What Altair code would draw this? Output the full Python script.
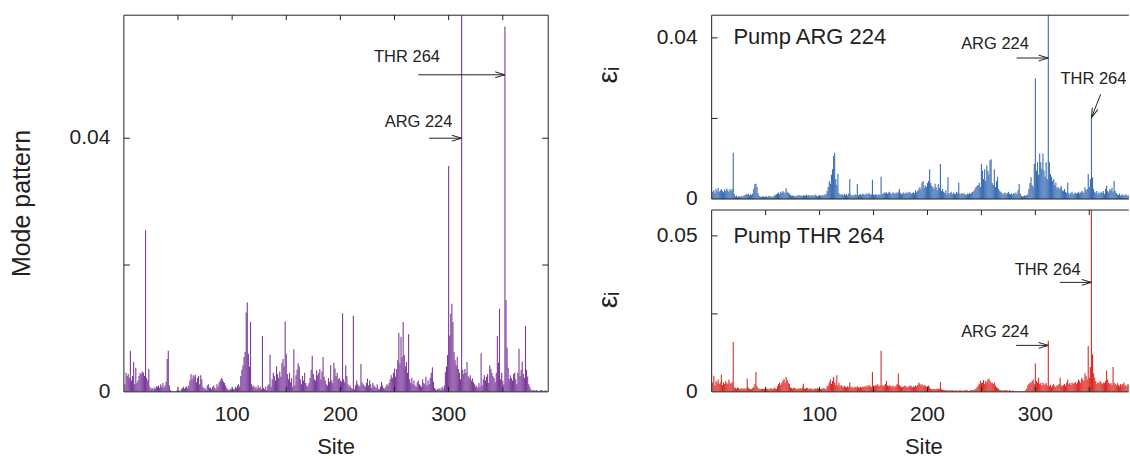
import altair as alt
import pandas as pd

# Residue index along the chain
SITES = list(range(1, 391))

# Per-site amplitudes, stored in units of 1e-4
MODE_PATTERN = [
    12, 30, 25, 28, 22, 65, 18, 25, 47, 12,
    38, 14, 18, 25, 30, 28, 32, 30, 25, 255,
    22, 18, 36, 8, 5, 6, 4, 7, 5, 9,
    8, 10, 6, 12, 8, 14, 7, 10, 16, 52,
    65, 10, 3, 1, 1, 1, 0, 1, 2, 1,
    2, 1, 4, 6, 8, 5, 7, 9, 6, 10,
    18, 28, 20, 26, 24, 27, 15, 22, 25, 12,
    26, 20, 8, 5, 6, 3, 10, 12, 7, 6,
    4, 8, 10, 6, 5, 12, 8, 15, 18, 22,
    20, 16, 14, 10, 6, 4, 3, 5, 4, 3,
    5, 4, 8, 6, 10, 12, 8, 25, 35, 42,
    55, 63, 125, 141, 60, 40, 110, 12, 8, 10,
    6, 8, 5, 10, 6, 8, 4, 88, 6, 4,
    8, 3, 10, 12, 59, 8, 20, 30, 25, 18,
    40, 28, 22, 32, 24, 45, 52, 40, 111, 60,
    28, 20, 30, 15, 22, 8, 67, 10, 26, 35,
    45, 40, 20, 12, 25, 18, 30, 14, 10, 8,
    14, 22, 35, 57, 28, 20, 18, 34, 26, 30,
    36, 20, 32, 55, 24, 18, 12, 10, 22, 16,
    42, 18, 14, 46, 37, 25, 30, 20, 22, 18,
    16, 124, 20, 15, 42, 25, 12, 8, 10, 6,
    5, 120, 4, 10, 18, 12, 10, 8, 44, 15,
    12, 10, 8, 14, 21, 10, 18, 12, 6, 14,
    10, 8, 6, 12, 5, 4, 8, 16, 10, 6,
    5, 8, 12, 10, 14, 20, 26, 22, 30, 37,
    24, 36, 50, 93, 45, 87, 55, 110, 58, 40,
    47, 30, 91, 20, 14, 22, 12, 18, 10, 8,
    15, 18, 12, 10, 8, 20, 14, 12, 24, 10,
    18, 12, 22, 30, 39, 16, 6, 4, 3, 5,
    4, 6, 3, 8, 5, 10, 31, 40, 58, 356,
    89, 123, 139, 110, 63, 50, 42, 55, 36, 30,
    20, 680, 35, 28, 36, 30, 47, 25, 22, 26,
    18, 21, 15, 12, 8, 10, 6, 14, 8, 61,
    10, 20, 26, 18, 24, 28, 14, 42, 36, 30,
    25, 22, 15, 30, 88, 46, 131, 20, 30, 18,
    12, 576, 145, 70, 38, 20, 26, 22, 18, 28,
    30, 20, 12, 30, 68, 25, 35, 48, 28, 22,
    104, 35, 24, 12, 8, 4, 2, 3, 2, 2,
    3, 2, 1, 2, 2, 3, 2, 1, 2, 2,
]

EPS_PUMP_ARG224 = [
    18, 22, 15, 25, 20, 28, 18, 22, 25, 20,
    17, 24, 20, 26, 22, 18, 25, 20, 25, 115,
    12, 6, 8, 5, 6, 7, 5, 8, 6, 9,
    10, 12, 11, 13, 9, 12, 10, 14, 25, 37,
    38, 30, 15, 8, 6, 5, 7, 6, 5, 7,
    6, 5, 8, 6, 7, 5, 6, 8, 10, 12,
    14, 16, 12, 18, 15, 20, 17, 14, 27, 18,
    15, 14, 10, 8, 9, 7, 8, 6, 9, 8,
    10, 8, 9, 7, 10, 8, 9, 11, 8, 10,
    9, 8, 10, 9, 8, 11, 9, 7, 8, 10,
    9, 8, 10, 9, 11, 12, 20, 30, 45, 38,
    60, 74, 107, 115, 50, 35, 62, 15, 10, 12,
    11, 9, 13, 10, 12, 9, 14, 50, 11, 8,
    10, 9, 12, 10, 37, 9, 11, 12, 10, 13,
    12, 10, 14, 11, 13, 15, 10, 12, 48, 11,
    10, 12, 11, 9, 12, 10, 55, 12, 14, 16,
    15, 17, 13, 16, 18, 14, 12, 17, 15, 13,
    16, 14, 18, 25, 15, 12, 14, 16, 13, 15,
    17, 14, 18, 16, 13, 15, 17, 14, 22, 18,
    20, 25, 30, 24, 41, 45, 28, 35, 30, 40,
    45, 74, 40, 33, 30, 25, 38, 30, 22, 37,
    28, 87, 20, 25, 18, 15, 22, 12, 54, 14,
    15, 18, 12, 16, 14, 12, 18, 15, 41, 14,
    12, 15, 13, 14, 12, 10, 14, 12, 15, 13,
    16, 18, 20, 25, 30, 33, 35, 40, 30, 87,
    70, 50, 74, 45, 83, 70, 60, 97, 99, 40,
    35, 74, 30, 45, 55, 25, 20, 18, 15, 12,
    14, 16, 12, 15, 18, 13, 12, 14, 11, 15,
    13, 16, 12, 22, 37, 14, 8, 6, 7, 9,
    8, 10, 12, 25, 40, 54, 35, 30, 87, 299,
    70, 91, 60, 113, 91, 75, 113, 70, 55, 91,
    50, 650, 91, 62, 55, 45, 50, 35, 41, 28,
    30, 25, 28, 33, 22, 20, 25, 18, 15, 41,
    14, 12, 15, 18, 12, 14, 16, 13, 15, 18,
    14, 16, 20, 18, 15, 29, 22, 25, 62, 30,
    50, 200, 54, 25, 18, 15, 20, 12, 16, 14,
    18, 15, 20, 12, 25, 33, 20, 16, 25, 22,
    28, 18, 45, 20, 15, 12, 10, 14, 8, 10,
    12, 8, 10, 12, 8, 10, 9, 8, 10, 9,
]

EPS_PUMP_THR264 = [
    30, 52, 20, 35, 28, 40, 25, 30, 55, 22,
    30, 25, 35, 28, 25, 40, 30, 25, 32, 160,
    15, 12, 10, 14, 12, 8, 10, 12, 9, 11,
    10, 12, 42, 14, 10, 8, 9, 12, 15, 25,
    64, 18, 12, 10, 8, 9, 11, 8, 10, 12,
    9, 11, 8, 10, 12, 9, 10, 13, 11, 9,
    18, 25, 30, 22, 28, 35, 42, 30, 48, 38,
    30, 25, 15, 12, 10, 14, 12, 10, 9, 11,
    10, 12, 9, 14, 26, 11, 10, 13, 12, 9,
    10, 12, 9, 8, 10, 11, 9, 12, 10, 8,
    9, 11, 10, 12, 10, 9, 18, 20, 30, 40,
    25, 35, 48, 30, 22, 53, 20, 28, 18, 22,
    18, 15, 20, 16, 14, 18, 15, 30, 16, 14,
    15, 13, 16, 14, 18, 15, 13, 16, 14, 17,
    15, 18, 16, 20, 17, 22, 18, 15, 64, 20,
    18, 22, 20, 25, 18, 20, 132, 22, 18, 20,
    25, 35, 20, 18, 22, 18, 16, 20, 15, 18,
    20, 25, 59, 22, 18, 15, 17, 16, 20, 18,
    15, 17, 16, 21, 18, 15, 17, 16, 20, 18,
    22, 30, 25, 20, 24, 18, 22, 20, 15, 18,
    20, 15, 10, 9, 8, 10, 9, 8, 11, 9,
    10, 32, 8, 7, 6, 5, 6, 4, 5, 4,
    5, 4, 6, 4, 3, 5, 4, 3, 5, 4,
    4, 5, 3, 4, 6, 4, 5, 3, 4, 5,
    4, 6, 5, 8, 10, 15, 20, 25, 35, 28,
    30, 38, 25, 35, 30, 40, 43, 35, 28, 30,
    25, 30, 20, 15, 12, 10, 6, 5, 4, 5,
    4, 6, 5, 4, 3, 5, 4, 3, 4, 3,
    2, 3, 2, 1, 2, 1, 2, 1, 2, 3,
    5, 10, 20, 25, 30, 28, 35, 40, 25, 91,
    35, 30, 45, 25, 28, 20, 30, 22, 25, 28,
    20, 164, 18, 22, 15, 20, 25, 18, 15, 20,
    22, 25, 45, 20, 18, 22, 25, 20, 30, 40,
    25, 28, 22, 30, 25, 28, 32, 25, 30, 40,
    35, 28, 45, 40, 35, 60, 50, 40, 147, 45,
    80, 650, 120, 60, 45, 35, 25, 30, 28, 35,
    30, 25, 30, 28, 35, 68, 40, 30, 25, 28,
    22, 80, 30, 25, 20, 28, 22, 18, 25, 20,
    25, 30, 22, 18, 20, 25, 22, 18, 20, 22,
]
UNIT = 1e-4

# Tick values and their printed labels
X_LABELS = [100, 200, 300]
X_MINOR = [50, 100, 150, 200, 250, 300, 350]
LEFT_Y_LABELS = [0, 0.04]
LEFT_Y_TEXT = ["0", "0.04"]
LEFT_Y_MINOR = [0.02, 0.04]
TOP_Y_LABELS = [0, 0.04]
TOP_Y_TEXT = ["0", "0.04"]
TOP_Y_MINOR = [0.02, 0.04]
BOT_Y_LABELS = [0, 0.05]
BOT_Y_TEXT = ["0", "0.05"]
BOT_Y_MINOR = [0.025, 0.05]

FONT = "Liberation Sans"
INK = "#222222"
PURPLE = "#7d3c9c"
BLUE = "#3b6db3"
RED = "#dc2c27"

# Open V arrowhead, tip at the origin, pointing along +x
ARROW_HEAD = "M-1,-0.3L0,0L-1,0.3"

ONE_ROW = alt.Data(values=[{}])


def impulses(values, color, xdom, ydom):
    df = pd.DataFrame({"site": SITES, "value": [v * UNIT for v in values]})
    return alt.Chart(df).mark_rule(color=color, strokeWidth=1.1, clip=True).encode(
        x=alt.X("site:Q", scale=alt.Scale(domain=xdom, nice=False, zero=False), axis=None),
        y=alt.Y("value:Q", scale=alt.Scale(domain=ydom, nice=False, zero=True), axis=None),
        y2=alt.datum(0),
    )


def frame(w, h, sides):
    segs = {
        "top": dict(x=alt.value(0), x2=alt.value(w), y=alt.value(0)),
        "bottom": dict(x=alt.value(0), x2=alt.value(w), y=alt.value(h)),
        "left": dict(x=alt.value(0), y=alt.value(0), y2=alt.value(h)),
        "right": dict(x=alt.value(w), y=alt.value(0), y2=alt.value(h)),
    }
    return [
        alt.Chart(ONE_ROW).mark_rule(color=INK, strokeWidth=1).encode(**segs[s])
        for s in sides
    ]


def y_ticks(values, w, both=False, length=6):
    df = pd.DataFrame({"t": values})
    base = alt.Chart(df).mark_rule(color=INK, strokeWidth=1)
    out = [base.encode(y=alt.Y("t:Q", axis=None), x=alt.value(0), x2=alt.value(length))]
    if both:
        out.append(base.encode(y=alt.Y("t:Q", axis=None), x=alt.value(w - length), x2=alt.value(w)))
    return out


def x_ticks(values, h, length=5):
    df = pd.DataFrame({"t": values})
    base = alt.Chart(df).mark_rule(color=INK, strokeWidth=1)
    return [
        base.encode(x=alt.X("t:Q", axis=None), y=alt.value(0), y2=alt.value(length)),
        base.encode(x=alt.X("t:Q", axis=None), y=alt.value(h - length), y2=alt.value(h)),
    ]


def y_labels(values, texts, dx=-13.5, size=21):
    df = pd.DataFrame({"t": values, "s": texts})
    return alt.Chart(df).mark_text(
        font=FONT, fontSize=size, align="right", baseline="middle", color=INK
    ).encode(y=alt.Y("t:Q", axis=None), x=alt.value(dx), text="s:N")


def x_labels(values, h, dy=23.6, size=21):
    df = pd.DataFrame({"t": values, "s": [str(v) for v in values]})
    return alt.Chart(df).mark_text(
        font=FONT, fontSize=size, align="center", baseline="middle", color=INK
    ).encode(x=alt.X("t:Q", axis=None), y=alt.value(h + dy), text="s:N")


def title(text, x, y, size=22, angle=0):
    return alt.Chart(ONE_ROW).mark_text(
        font=FONT, fontSize=size, align="center", baseline="middle", color=INK, angle=angle
    ).encode(x=alt.value(x), y=alt.value(y), text=alt.value(text))


def arrows(rows, size=380):
    df = pd.DataFrame(rows)
    line = alt.Chart(df).mark_rule(color=INK, strokeWidth=1).encode(
        x=alt.X("xa:Q", axis=None), x2="xb:Q",
        y=alt.Y("ya:Q", axis=None), y2="yb:Q",
    )
    head = alt.Chart(df).mark_point(
        shape=ARROW_HEAD, filled=False, size=size, color=INK, strokeWidth=1, opacity=1
    ).encode(
        x=alt.X("xb:Q", axis=None),
        y=alt.Y("yb:Q", axis=None),
        angle=alt.Angle("ang:Q", scale=None),
    )
    return [line, head]


def label(text, x, y, align, size=16.5):
    df = pd.DataFrame({"tx": [x], "ty": [y], "label": [text]})
    return alt.Chart(df).mark_text(
        font=FONT, fontSize=size, align=align, baseline="middle", color=INK
    ).encode(x=alt.X("tx:Q", axis=None), y=alt.Y("ty:Q", axis=None), text="label:N")


# ---- left panel: mode pattern ----
LW, LH = 424.7, 377
left_layers = [
    impulses(MODE_PATTERN, PURPLE, [0, 392], [0, 0.0594]),
    *frame(LW, LH, ["top", "bottom", "left", "right"]),
    *y_ticks(LEFT_Y_MINOR, LW, both=True),
    *x_ticks(X_MINOR, LH),
    y_labels(LEFT_Y_LABELS, LEFT_Y_TEXT),
    x_labels(X_LABELS, LH),
    title("Site", LW / 2, LH + 55),
    title("Mode pattern", -101.5, LH / 2, size=25, angle=270),
    *arrows([
        dict(xa=272, ya=0.05, xb=352, yb=0.05, ang=0),
        dict(xa=282, ya=0.04, xb=312, yb=0.04, ang=0),
    ]),
    label("THR 264", 292, 0.0528, "right"),
    label("ARG 224", 303.5, 0.0426, "right"),
    # invisible anchor fixing the page offset of the plot area
    alt.Chart(ONE_ROW).mark_rule(strokeOpacity=0, strokeWidth=1).encode(
        x=alt.value(-124), y=alt.value(-15), y2=alt.value(0)
    ),
]
left = alt.layer(*left_layers).properties(width=LW, height=LH)

# ---- right panels: epsilon_i for the two pumped residues ----
RW = 417.5
RXDOM = [0, 386.6]

TH = 184
top_layers = [
    impulses(EPS_PUMP_ARG224, BLUE, RXDOM, [0, 0.04563]),
    *frame(RW, TH, ["top", "bottom", "left"]),
    *y_ticks(TOP_Y_MINOR, RW),
    y_labels(TOP_Y_LABELS, TOP_Y_TEXT, dx=-14),
    title("εᵢ", -102.5, 60, size=28, angle=270),
    *arrows([
        dict(xa=282.6, ya=0.035, xb=312, yb=0.035, ang=0),
        dict(xa=360.5, ya=0.026, xb=352, yb=0.0202, ang=111.5),
    ]),
    label("Pump ARG 224", 20.2, 0.0402, "left", size=22),
    label("ARG 224", 294, 0.0386, "right"),
    label("THR 264", 323.3, 0.0297, "left"),
]
top = alt.layer(*top_layers).properties(width=RW, height=TH)

BH = 182
bottom_layers = [
    impulses(EPS_PUMP_THR264, RED, RXDOM, [0, 0.0583]),
    *frame(RW, BH, ["top", "bottom", "left"]),
    *y_ticks(BOT_Y_MINOR, RW),
    *x_ticks(X_MINOR, BH),
    y_labels(BOT_Y_LABELS, BOT_Y_TEXT, dx=-14),
    x_labels(X_LABELS, BH),
    title("Site", 212.4, BH + 55),
    title("εᵢ", -102.5, 90, size=28, angle=270),
    *arrows([
        dict(xa=322.7, ya=0.0351, xb=352, yb=0.0351, ang=0),
        dict(xa=282.2, ya=0.0149, xb=312, yb=0.0149, ang=0),
    ]),
    label("Pump THR 264", 20.2, 0.0499, "left", size=22),
    label("THR 264", 341.9, 0.0392, "right"),
    label("ARG 224", 294, 0.0191, "right"),
]
bottom = alt.layer(*bottom_layers).properties(width=RW, height=BH)

right = alt.vconcat(top, bottom, spacing=11, bounds="flush")

chart = (
    alt.hconcat(left, right, spacing=163.3, bounds="flush")
    .properties(padding=0, background="white")
    .configure_view(stroke=None)
)

chart.save("out.html", embed_options={"renderer": "svg", "actions": False})
